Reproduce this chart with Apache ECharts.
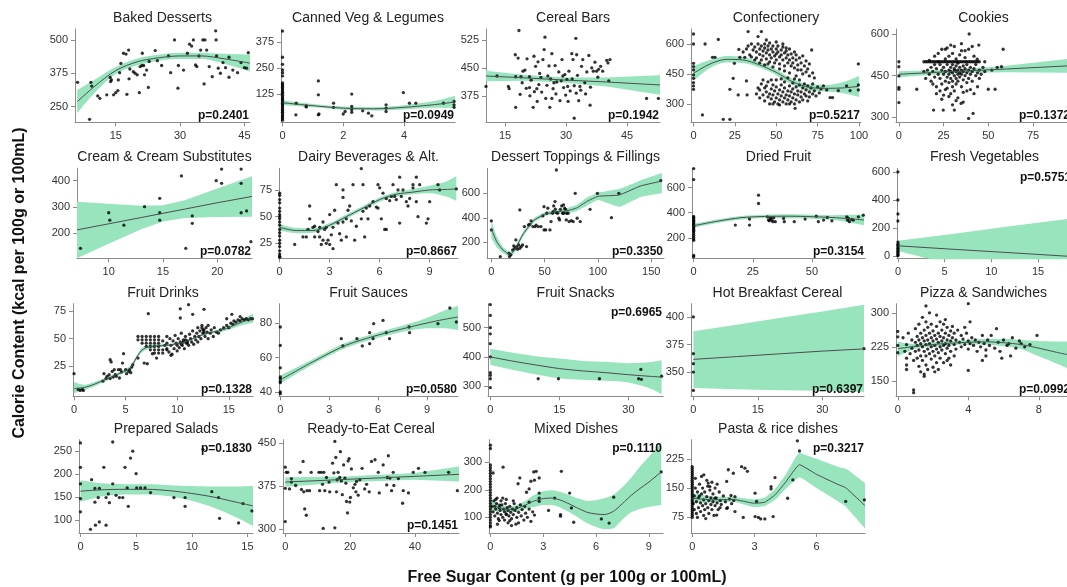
<!DOCTYPE html>
<html>
<head>
<meta charset="utf-8">
<script src="https://cdn.jsdelivr.net/npm/echarts@6/dist/echarts.min.js"></script>
<style>
  html, body { margin: 0; padding: 0; background: #fff; }
  #chart { width: 1067px; height: 587px; }
</style>
</head>
<body>
<div id="chart"></div>
<script>
// ---- panel texts ----
const titles = ['Baked Desserts', 'Canned Veg & Legumes', 'Cereal Bars', 'Confectionery', 'Cookies',
  'Cream & Cream Substitutes', 'Dairy Beverages & Alt.', 'Dessert Toppings & Fillings', 'Dried Fruit', 'Fresh Vegetables',
  'Fruit Drinks', 'Fruit Sauces', 'Fruit Snacks', 'Hot Breakfast Cereal', 'Pizza & Sandwiches',
  'Prepared Salads', 'Ready-to-Eat Cereal', 'Mixed Dishes', 'Pasta & rice dishes'];
const pValues = ['0.2401', '0.0949', '0.1942', '0.5217', '0.1372', '0.0782', '0.8667', '0.3350', '0.3154', '0.5751',
  '0.1328', '0.0580', '0.6965', '0.6397', '0.0992', '0.1830', '0.1451', '0.1110', '0.3217'];

// ---- axis ranges and tick labels ----
const xRange = [[5.5, 46.3], [-0.05, 5.68], [10.3, 53.1], [-1.5, 101.2], [-1.6, 94], [7.08, 23.2], [-0.04, 10.7], [-4.1, 162],
  [-0.7, 72.4], [-0.1, 18.1], [-0.1, 17.35], [-0.08, 10.9], [-0.5, 37.5], [-0.55, 39.7], [-0.1, 9.6], [-0.13, 15.5],
  [-0.7, 53.6], [-0.08, 9.8], [-0.06, 8.33]];
const yRange = [[191, 541], [-10, 439], [304, 554], [208, 675], [282, 618], [105, 447], [11, 95.3], [69, 804],
  [37, 753], [-16, 626], [-2, 81.6], [37.5, 91.2], [265, 582], [328, 412], [116, 320], [72, 275], [293, 456],
  [43, 382], [35, 274]];
const xTicks = [[15, 30, 45], [0, 2, 4], [15, 30, 45], [0, 25, 50, 75, 100], [0, 25, 50, 75], [10, 15, 20], [0, 3, 6, 9],
  [0, 50, 100, 150], [0, 25, 50], [0, 5, 10, 15], [0, 5, 10, 15], [0, 3, 6, 9], [0, 15, 30], [0, 15, 30], [0, 4, 8],
  [0, 5, 10, 15], [0, 20, 40], [0, 3, 6, 9], [0, 3, 6]];
const yTicks = [[250, 375, 500], [125, 250, 375], [375, 450, 525], [300, 450, 600], [300, 450, 600], [200, 300, 400],
  [25, 50, 75], [200, 400, 600], [200, 400, 600], [0, 200, 400, 600], [25, 50, 75], [40, 60, 80], [300, 400, 500],
  [350, 375, 400], [150, 225, 300], [100, 150, 200, 250], [300, 375, 450], [100, 200, 300], [75, 150, 225]];

// ---- scatter points ----
const bakedPts = [[6.1,341],[8.9,202],[9.2,341],[9.4,327],[10.8,290],[11.3,281],[12.9,294],[13.7,359],[13.8,344],[14,350],
  [14.5,294],[15,302],[15.5,310],[15.9,377],[16.2,412],[15.6,350],[16.8,450],[17.4,447],[18,462],[17.6,296],[18.1,354],
  [18.3,391],[19.1,381],[19.5,375],[20,369],[20.5,302],[20.7,400],[21.1,404],[21.5,404],[21.7,369],[21.2,450],[22.2,387],
  [22.6,322],[22.8,419],[24.2,460],[24.7,422],[25.7,404],[27.3,440],[27.8,377],[28.7,500],[29.5,319],[29.6,404],[30.8,387],
  [31.7,450],[32.2,484],[32.7,477],[33.1,500],[33.6,406],[33.9,400],[34.4,440],[34.8,462],[35.3,500],[35.8,500],[35.6,335],
  [36.2,462],[36.8,400],[37.5,362],[38.3,534],[38.4,500],[38.5,440],[38.9,394],[39.4,375],[40,415],[40.6,396],[41.4,435],
  [41.4,360],[42.3,387],[43.4,377],[44.2,415],[45,396],[45.5,394],[45.9,452]];
const cannedZero = [429,303,269,242,229,213,180,172,165,158,150,142,135,128,120,112,105,98,90,82,75,68,60,52,45,38,30,22,15,8,0];
const cannedPts = [[0.44,26],[0.45,82],[0.78,69],[0.78,64],[1.18,189],[1.18,122],[1.18,26],[1.2,30],[1.68,82],[1.68,62],
  [2,30],[2.06,42],[2.28,126],[2.28,66],[2.28,50],[2.28,38],[2.64,45],[2.83,34],[2.94,21],[3.41,74],[3.41,58],[3.41,42],
  [3.98,133],[4.18,82],[4.39,82],[5.3,82],[5.65,90],[5.65,74],[5.65,62]];
const cerealPts = [[10.3,400],[13,428],[15.8,400],[16,394],[17.6,344],[17.5,485],[18.2,476],[18.4,550],[17.6,426],[18.9,426],
  [18.7,379],[19.2,410],[19.9,444],[20.4,474],[21,397],[21.1,375],[21.4,417],[21.9,344],[22.1,481],[22.2,386],[22.5,454],
  [22.8,394],[23.1,466],[23.5,435],[23.8,424],[24.3,472],[24.6,499],[25,368],[24.8,532],[25.3,403],[25.5,428],[26,344],
  [26.5,368],[26.5,488],[26.8,394],[27,410],[27.3,456],[27.7,412],[28.2,439],[28.5,362],[29,472],[29.2,428],[29.4,397],
  [29.7,432],[29.9,377],[30.2,419],[30.4,400],[30.7,441],[31,388],[31.4,488],[31.7,472],[32,402],[32,315],[32.4,529],
  [32.5,382],[32.6,485],[32.8,430],[33.1,362],[33.4,400],[33.8,454],[34.1,472],[34.6,410],[35.1,439],[35.6,483],[35.9,350],
  [36.3,450],[36.7,441],[37.1,465],[37.5,441],[38,446],[38.5,454],[39,441],[40,470],[40.5,415],[40.3,463],[40.8,472],
  [49.8,368],[52.7,368],[19.4,441],[21,426],[23.3,405],[24,385],[25.8,455],[27.5,380],[28.8,415],[30.5,360],[31.5,420],
  [33.6,390],[34.8,380],[36,398],[37.8,425],[20.2,395],[22.9,360],[26.2,420]];
const confZero = [650,600,503,487,470,445,428,407,390,373];
const confPts = [[5.4,245],[7,600],[15,623],[18,223],[22,223],[11.5,533],[13,533],[22,373],[24,428],[24.7,503],[27,345],
  [27.4,573],[32,415],[32.4,345],[28,533],[31,533],[33,662],[39,637],[41,662],[71.4,570],[78.5,390],[80.5,370],[82.5,332],
  [84,332],[87.5,367],[92.5,390],[94.6,367],[99.6,500],[99.6,395],[99.6,370],[61.4,278],
  [30,560],[32,575],[33,590],[34,545],[35,600],[36,570],[37,585],[38,560],[38,530],[39,600],[40,575],[40,548],[41,590],
  [41,520],[42,565],[42,540],[43,580],[43,600],[44,555],[44,525],[45,570],[45,590],[46,545],[46,510],[47,575],[47,530],
  [48,560],[48,590],[49,540],[49,505],[50,575],[50,550],[50,520],[51,560],[51,590],[52,535],[52,500],[53,570],[53,545],
  [54,520],[54,585],[55,555],[55,490],[56,530],[56,565],[57,505],[57,545],[58,575],[58,520],[59,490],[59,550],[60,530],
  [60,505],[61,560],[61,480],[62,520],[62,545],[63,495],[63,470],[64,530],[65,505],[65,470],[66,540],[66,450],[67,490],
  [68,515],[68,460],[69,475],[70,440],[70,500],[72,455],[73,430],[45,500],[43,495],[40,505],[37,520],[35,535],[48,485],
  [52,475],[55,465],[58,455],[62,440],[56,580],[54,600],[50,610],[46,605],[44,620],
  [38,350],[40,330],[40,370],[41,400],[42,345],[43,315],[43,380],[44,360],[45,335],[45,410],[46,300],[46,350],[47,375],
  [47,325],[48,395],[48,345],[49,310],[49,365],[50,330],[50,385],[50,420],[51,350],[51,300],[52,370],[52,320],[53,340],
  [53,395],[54,310],[54,360],[55,330],[55,380],[55,410],[56,345],[56,300],[57,365],[57,320],[58,390],[58,340],[59,310],
  [59,360],[60,330],[60,375],[60,405],[61,350],[61,300],[62,320],[62,385],[63,345],[63,365],[64,310],[64,395],[65,335],
  [65,360],[66,380],[66,320],[67,350],[67,400],[68,340],[68,370],[69,315],[69,390],[70,360],[70,335],[71,380],[72,350],
  [72,400],[73,365],[74,340],[75,385],[76,355],[77,375],[44,390],[42,420],[39,380],[47,420],[53,425],[57,430],[61,425],
  [64,420],[58,300],[52,295],[48,300]];
const cookiesZero = [500,482,449,408,401,353];
const cookiesRowX = [15,16,17,18,19,20,21,22,23,24,25,26,27,28,29,30,31,32,33,34,35,36,37,38,39,40,41,42,43,44,45];
const cookiesPts = [[10,401],[14,500],[19.4,326],[24.8,326],[31,326],[34.8,350],[39,296],[41.5,314],[39.3,600],[58.3,545],
  [57.4,482],[50,401],[53.8,401],[43.8,509],[44.7,560],
  [16,470],[17,455],[18,480],[18,430],[19,465],[20,445],[20,520],[21,475],[21,410],[22,455],[22,530],[23,490],[23,440],
  [23,395],[24,470],[24,420],[24,545],[25,455],[25,480],[25,380],[26,465],[26,510],[26,430],[27,445],[27,490],[27,405],
  [27,550],[28,470],[28,455],[28,425],[28,520],[29,480],[29,440],[29,465],[29,385],[30,460],[30,490],[30,430],[30,530],
  [30,410],[31,470],[31,450],[31,475],[31,555],[31,395],[32,465],[32,485],[32,440],[32,510],[32,420],[33,470],[33,455],
  [33,495],[33,430],[33,370],[34,460],[34,480],[34,445],[34,525],[35,470],[35,455],[35,410],[35,540],[36,465],[36,485],
  [36,435],[36,390],[37,475],[37,450],[37,515],[38,460],[38,425],[38,490],[39,470],[39,440],[39,545],[40,455],[40,480],
  [40,400],[41,465],[41,430],[42,475],[42,520],[43,450],[43,490],[44,460],[44,410],[45,470],[45,440],[46,455],[47,480],
  [48,465],[20,490],[22,500],[26,545],[29,560],[35,565],[37,540],[41,555],[19,420],[21,385],[24,365],[28,375],[32,360],
  [36,355],[30,345],[26,400],[38,395],[42,385],[17,505],[14,465],[15,440],[48,500],[52,470],[55,480]];
const creamPts = [[7.4,143],[10,278],[10.1,250],[11.4,231],[13.3,301],[14.7,333],[14.7,278],[14.7,250],[16.7,418],[17.1,143],
  [17.7,266],[17.7,238],[19.9,400],[20.4,444],[20.4,390],[22.2,444],[22.2,390],[22.2,278],[22.7,285],[23.1,168]];
const dairyZero = [72,70,66,63,58,55,52,50,48,45,42,38,35,32,28,25,22,18,15,13,12];
const dairyPts = [[0.9,24],[1.4,31],[1.6,31],[1.7,38],[1.8,60],[1.8,48],[2,40],[2.1,41],[2.1,31],[2.3,36],[2.4,31],[2.4,40],
  [2.5,24],[2.6,28],[2.6,45],[2.7,38],[2.8,25],[2.8,40],[2.9,28],[3,52],[3,24],[3.1,33],[3.2,20],[3.2,40],[3.3,56],[3.4,80],
  [3.5,44],[3.6,34],[3.7,28],[3.8,68],[3.8,75],[3.8,45],[4,48],[4,31],[4.1,56],[4.2,60],[4.3,46],[4.4,80],[4.5,28],[4.6,41],
  [4.9,48],[4.9,95],[5,55],[5,80],[5.1,31],[5.2,58],[5.3,48],[5.4,60],[5.6,64],[5.8,59],[5.9,58],[6.1,48],[5.9,80],[6,77],
  [6.2,72],[6.3,38],[6.4,38],[6.4,67],[6.6,65],[6.7,69],[6.8,80],[6.9,69],[7,66],[7.1,75],[7.2,44],[7.2,87],[7.3,69],[7.4,75],
  [7.6,64],[7.7,60],[7.8,67],[8,77],[8,80],[8.2,87],[8.2,64],[8.3,50],[8.4,80],[8.8,44],[8.9,48],[9,64],[9.5,80],[9.6,75],
  [10.6,76]];
const dessertPts = [[0,374],[0,301],[8.4,83],[16.5,110],[17,83],[18.3,97],[20,137],[21,170],[22,151],[23,219],[23.8,165],
  [24.5,143],[25.6,178],[26.7,464],[26.7,151],[28,165],[29.3,178],[31,328],[33,165],[34.8,341],[37.3,374],[39,328],[41,328],
  [44,328],[46.5,328],[48.3,415],[49.4,491],[49.4,301],[51,301],[52,437],[53,478],[55,301],[56,369],[57.4,437],[58.5,497],
  [59.7,532],[61,790],[61,442],[62.2,437],[63.3,396],[64,382],[66,497],[67,437],[67.7,505],[68.8,478],[70.3,382],[70.6,437],
  [73,369],[75,377],[76.8,369],[78.7,600],[80.5,396],[83.4,369],[92.6,469],[99.5,600],[112.7,401],[119.6,600],[159,703],
  [64.8,469],[67.7,437],[69.5,469],[60,470],[58,450],[72,437],[42,340],[36,345]];
const driedZero = [751,663,370,360,350,340,330,320,310,300,290,280,270,260,250,235,220,205,190,180,60,50];
const driedPts = [[17.6,301],[23.6,349],[23.6,301],[27.4,539],[27.4,473],[31.2,367],[31.6,341],[32.3,349],[32.6,359],[33.5,328],
  [33.8,359],[34.5,328],[38,354],[38.3,328],[42.5,328],[47.1,349],[51.8,372],[52.7,328],[54.9,341],[56.5,362],[58.4,335],
  [64.7,367],[65,341],[65.4,354],[65.8,328],[66.8,346],[67.5,341],[69.6,367],[71.7,380],[32,335],[33,340]];
const freshZero = [600,400,300,250,100,85,75,65,55,45,35,25,15,8,3];
const drinksPts = [[0,18.4],[0.4,4.2],[0.6,3.3],[0.8,4.2],[0.9,3.3],[2.8,11.7],[2.9,18.4],[3.1,14],[3.2,16],[3.4,17.5],
  [3.5,14],[3.5,31],[3.6,29],[3.7,20.5],[3.8,15.4],[3.9,22],[4,17.5],[4.1,16],[4.3,22],[4.4,14.5],[4.5,22],[4.6,20],[4.7,28],
  [4.8,36.5],[5,22],[5.1,18.4],[5.3,20.5],[5.4,22],[5.5,19.3],[5.6,24.4],[5.7,26.5],
  [6.2,52],[6.6,52],[7,52],[7.4,52],[7.8,52],[8.2,52],[6.2,49],[6.6,49],[7,49],[7.4,49],[7.8,49],[8.2,49],[6.6,46],[7,46],
  [7.4,46],[7.8,46],[8.2,46],[7,43],[7.4,43],[7.8,43],[8.2,43],[7.4,40],[7.8,40],[8.2,40],[8.6,40],[7.8,37],[8.2,37],[8.6,37],
  [8.6,48],[8.8,44],[9,52],[9,46],[9,41],[9.2,38],[9.3,50],[9.4,44],[9.5,36],[9.6,48],[9.7,41],[9.8,53],[9.9,46],[10,44],
  [10,39],[10.1,50],[10.2,42],[10.3,47],[10.4,55],[10.5,44],[10.6,49],[10.7,41],[10.8,52],[10.9,46],[11,48],[11.1,44],
  [11.2,54],[11.3,50],[11.4,47],[11.5,57],[11.6,45],[11.7,52],[11.8,49],[11.9,55],[12,47],[12,60],[12.1,52],[12.2,57],
  [12.3,50],[12.4,62],[12.5,55],[12.6,58],[12.7,52],[12.8,60],[12.9,56],[13,50],[13,62],[13.2,55],[13.3,58],[13.5,52],
  [13.6,60],[13.8,56],[14,55],[14.2,58],[14.5,60],[14.8,62],[15,60],[15.2,64],[15.4,63],[15.5,66],[15.7,65],[15.9,67],
  [16.1,66],[16.3,68],[16.5,67],[16.7,68],[16.9,67],[17.1,68],[17.3,68],[15.3,72],[14.8,68],[16.1,70],[10.4,45],[10.6,47],
  [10.8,49],[11,46],[12.5,58],[12.6,56],[12.4,60],[7.2,72.6],[10.3,77],[11.1,80.7],[10.3,68.7],[11.5,72],[12.6,76.5],
  [6.2,32.5],[6.8,28],[7.1,27.4],[7.6,36.4],[8,32.5],[9.4,35],[9,40]];
const saucesZero = [77.7,67,54,48.7,47.7,46.2,45.4,40,39];
const saucesPts = [[3.74,70.9],[3.84,66.7],[4.7,70.9],[5.03,66.7],[5.48,74.4],[5.48,68],[5.69,70.9],[5.73,79.6],[6.3,81.5],
  [6.5,74.4],[6.7,70.9],[7.9,77.7],[7.93,74.4],[9.67,79.6],[10.4,88.7],[10.8,80.6]];
const snacksZero = [579,542,500,479,445,400,346,337,325,295];
const snacksPts = [[10.4,325],[14.8,325],[23.7,325],[32.2,325],[32.8,323],[32.7,357],[37.2,334]];
const hotZero = [400,366.7,357.6,350,333.3];
const hotPts = [[39.7,371.2]];
const pizzaPts = [[0.9,130],[0.9,124],[4,320],[1.6,315],[7.9,250],[4,173],[0,259],[0,247],[0,228],[0,212],[0.5,175],[1.5,160],
  [2.1,170],[0.3,245],[0.4,215],[0.5,200],[0.5,185],[0.5,230],[0.6,255],[0.7,210],[0.8,240],[0.8,222],[0.9,195],[1,265],
  [1,235],[1,215],[1.1,248],[1.1,228],[1.1,200],[1.2,275],[1.2,240],[1.2,218],[1.2,182],[1.3,255],[1.3,232],[1.3,205],
  [1.3,170],[1.4,290],[1.4,245],[1.4,225],[1.4,195],[1.5,262],[1.5,238],[1.5,215],[1.5,165],[1.6,280],[1.6,250],[1.6,230],
  [1.6,205],[1.6,185],[1.7,268],[1.7,240],[1.7,220],[1.7,175],[1.8,255],[1.8,232],[1.8,210],[1.9,275],[1.9,245],[1.9,225],
  [1.9,198],[2,260],[2,238],[2,215],[2,180],[2.1,250],[2.1,228],[2.1,205],[2.2,270],[2.2,242],[2.2,220],[2.2,190],[2.3,255],
  [2.3,235],[2.3,212],[2.3,175],[2.4,280],[2.4,248],[2.4,225],[2.4,200],[2.5,262],[2.5,238],[2.5,218],[2.6,275],[2.6,245],
  [2.6,228],[2.6,190],[2.7,255],[2.7,232],[2.7,210],[2.8,268],[2.8,240],[2.8,222],[2.9,250],[2.9,228],[2.9,200],[3,260],
  [3,238],[3,215],[3.1,270],[3.1,245],[3.2,230],[3.2,255],[3.3,240],[3.3,220],[3.4,262],[3.5,235],[3.6,250],[3.6,225],
  [3.7,242],[3.8,230],[3.9,255],[4,238],[4,220],[4.1,232],[4.2,245],[4.3,228],[4.4,240],[4.5,215],[4.6,235],[4.7,225],
  [4.8,250],[4.9,232],[5,218],[5.1,240],[5.2,228],[5.3,250],[5.5,222],[5.6,265],[5.7,235],[5.8,215],[6,240],[6.2,228],
  [6.3,232],[6.4,205],[6.5,245],[6.7,222],[6.9,238],[7,232],[7.2,225],[7.5,230],[3.8,268],[4.1,280],[2.2,295],[1.8,300],
  [2.7,285],[2.8,195],[3.2,205],[5,205],[4.8,195],[5.9,200],[3,185]];
const saladsZero = [268,215,179,147,118];
const saladsPts = [[0.9,80],[1,188],[1.3,169],[1.3,139],[1.35,89],[1.6,149],[1.7,169],[1.7,96],[2.1,215],[2.3,149],[2.3,89],
  [2.5,157],[2.6,138],[2.9,270],[2.9,179],[3.2,154],[3.5,149],[3.8,149],[4,215],[4.2,170],[4.3,130],[4.5,235],[4.7,250],
  [5,201],[5.05,170],[5.4,170],[5.8,170],[6.3,160],[8.4,149],[9.4,149],[9.4,130],[11.8,162],[12.4,149],[12.5,104],
  [14.6,136],[14.2,94],[15.4,120],[11,254]];
const readyPts = [[0,408],[0.3,399],[0,371],[0,313],[0.8,399],[1.3,370],[1.9,382],[1.9,388],[3.2,376],[4.6,399],[5,369],
  [5.5,418],[5.7,365],[6,335],[6.5,324],[6.7,367],[7.5,367],[8,399],[10.4,399],[10.6,367],[11.1,399],[11.5,378],[11.7,301],
  [11.9,399],[12.2,367],[12.7,390],[13.5,382],[13.7,365],[14.6,415],[15,398],[15.3,453],[15.3,302],[15.6,425],[15.8,365],
  [16,386],[16.3,399],[16.8,390],[17,435],[17.3,384],[17.6,360],[18,412],[18.4,389],[18.7,380],[18.9,348],[19.2,328],
  [19.4,419],[19.7,423],[19.9,347],[20.1,355],[20.4,405],[21,372],[21.5,378],[21.8,365],[22,383],[22.5,359],[23,386],
  [23.7,406],[24.5,370],[25.1,378],[25.9,365],[26.6,418],[27.7,421],[28.7,399],[29,363],[30.2,412],[31.3,377],[31.5,390],
  [31.8,428],[32.3,389],[32.8,367],[33.3,399],[33.5,376],[34.9,388],[36.2,345],[36.4,367],[38,363],[39.5,399],[41.1,406],
  [43.1,399],[50.4,399],[53.1,367]];
const mixedZero = [362,350,290,280,270,260,250,240,230,220,210,200,190,180,170,160,150,140,130,120,110,100,90,80,70,65];
const mixedPts = [[0.15,261],[0.72,282],[0.38,170],[0.25,140],[0.53,144],[0.9,110],[1.57,222],[1.67,243],[2.05,191],[2.2,203],
  [2.3,231],[2.46,265],[2.5,235],[2.6,267],[2.77,243],[2.77,188],[2.77,158],[2.77,170],[3.3,125],[3.65,170],[3.98,110],
  [3.98,104],[4.03,267],[4.5,188],[4.6,134],[4.73,82],[6.3,94],[6.74,79],[7,173],[9.7,265],
  [0.1,140],[0.15,120],[0.2,160],[0.25,105],[0.3,130],[0.35,150],[0.4,115],[0.45,95],[0.5,135],[0.55,125],[0.6,160],
  [0.6,110],[0.65,145],[0.7,100],[0.75,130],[0.8,120],[0.8,90],[0.85,150],[0.9,112],[0.95,135],[1,125],[1,80],[1.05,105],
  [1.1,140],[1.15,118],[1.2,95],[1.25,130],[1.3,110],[1.35,150],[1.4,125],[1.5,100],[1.5,135],[1.6,80],[1.6,118],[1.7,145],
  [1.75,105],[1.8,128],[1.9,90],[1.95,140],[2,115],[2.1,100],[2.2,130],[2.3,85],[2.4,120],[2.5,108],[0.3,165],[0.5,88],
  [0.4,75],[1.2,70],[1.45,75],[0.7,170],[0.9,165],[1.3,160],[2.2,155],[1.1,88]];
const pastaZero = [205,200,195,190,185,180,175,170,165,160,155,150,145,140,135,130,125,120,115,110,105,100,95,90,85,80,75];
const pastaPts = [[0.56,184],[0.77,163],[0.85,154],[1.1,124],[1.18,81],[1.66,167],[1.74,197],[1.98,188],[2.06,128],[2.06,90],
  [2.38,205],[2.54,201],[2.66,193],[2.46,75],[1.66,98],[1.87,131],[1.34,100],[3.03,137],[3.03,77],[3.19,75],[3.3,71],
  [3.5,71],[3.1,116],[3.8,154],[3.8,148],[3.9,77],[3.99,177],[4.6,124],[4.85,171],[5.07,271],[5.17,245],[7.4,116],[8.3,120],
  [0.05,110],[0.1,95],[0.1,130],[0.15,150],[0.2,85],[0.2,115],[0.25,140],[0.3,100],[0.3,125],[0.35,160],[0.4,90],[0.4,112],
  [0.45,135],[0.5,105],[0.5,150],[0.55,80],[0.55,120],[0.6,95],[0.6,140],[0.65,110],[0.7,128],[0.7,170],[0.75,100],[0.8,118],
  [0.8,85],[0.85,145],[0.9,108],[0.9,125],[0.95,95],[1,135],[1,115],[1.05,80],[1.1,150],[1.1,105],[1.15,125],[1.2,112],
  [1.25,95],[1.3,140],[1.35,118],[1.4,108],[1.5,130],[1.6,115],[1.7,100],[1.8,122],[1.9,110],[2,118],[0.15,175],[0.25,75],
  [0.45,180],[0.65,72],[0.35,130],[0.75,155],[0.95,165],[1.2,160]];

// ---- fitted curves: x, fit, lower and upper band ----
const bakedFx = [6, 10, 15, 20, 25, 30, 35, 40, 46.3];
const bakedFit = [268, 325, 385, 418, 433, 440, 440, 430, 413];
const bakedLo = [225, 300, 372, 405, 422, 428, 428, 412, 382];
const bakedHi = [312, 350, 398, 430, 445, 452, 452, 448, 445];
const cannedFx = [0, 1, 2, 3, 4, 5, 5.68];
const cannedFit = [84, 70, 58, 55, 62, 75, 88];
const cannedLo = [72, 62, 50, 47, 52, 60, 58];
const cannedHi = [96, 78, 66, 63, 72, 92, 118];
const cerealFx = [10.3, 20, 30, 40, 53.1];
const cerealFit = [428, 423, 417, 412, 404];
const cerealLo = [414, 415, 410, 400, 378];
const cerealHi = [442, 431, 424, 424, 430];
const confFx = [0, 10, 20, 30, 40, 50, 60, 70, 80, 90, 100];
const confFit = [453, 500, 523, 520, 495, 458, 410, 383, 378, 380, 388];
const confLo = [415, 480, 507, 505, 482, 444, 396, 368, 362, 355, 335];
const confHi = [490, 520, 540, 535, 508, 472, 424, 398, 395, 408, 440];
const cookiesFx = [0, 30, 60, 94];
const cookiesFit = [455, 465, 474, 485];
const cookiesLo = [444, 459, 462, 460];
const cookiesHi = [466, 471, 486, 510];
const creamFx = [7.08, 10, 13, 15, 17, 20, 23.2];
const creamFit = [213, 236, 260, 276, 292, 316, 340];
const creamLo = [105, 160, 215, 245, 258, 262, 263];
const creamHi = [320, 312, 305, 307, 326, 370, 417];
const dairyFx = [0, 1, 2, 3, 4, 5, 6, 7, 8, 9, 10, 10.6];
const dairyFit = [40, 37, 37, 42, 50, 58, 66, 71, 73, 75, 75.5, 76];
const dairyLo = [37, 34.5, 35, 40, 48, 56, 64, 69, 71, 72, 69, 65];
const dairyHi = [43, 39.5, 39, 44, 52, 60, 68, 73, 76, 79, 83, 88];
const dessertFx = [0, 5, 10, 15, 18, 22, 30, 40, 50, 60, 70, 80, 90, 100, 120, 140, 160];
const dessertFit = [306, 205, 145, 110, 102, 140, 270, 380, 428, 448, 455, 480, 535, 575, 586, 660, 700];
const dessertLo = [235, 160, 118, 90, 80, 120, 250, 362, 412, 432, 432, 455, 500, 545, 490, 570, 600];
const dessertHi = [375, 250, 170, 130, 125, 160, 290, 398, 445, 465, 478, 505, 568, 605, 635, 705, 765];
const driedFx = [0, 10, 20, 30, 40, 50, 60, 72];
const driedFit = [296, 332, 360, 370, 372, 368, 360, 342];
const driedLo = [280, 318, 346, 356, 356, 352, 340, 300];
const driedHi = [312, 346, 374, 384, 388, 384, 380, 385];
const freshFx = [0, 6, 12, 18.1];
const freshFit = [73, 48, 24, -1];
const freshLo = [36, -64, -164, -267];
const freshHi = [110, 160, 212, 265];
const drinksFx = [0, 1, 2, 3, 4, 5, 5.5, 6, 6.5, 7, 8, 9, 10, 11, 12, 13, 14, 15, 16, 17.35];
const drinksFit = [5, 6, 9, 13, 17, 21, 24, 32, 39, 42, 43.5, 44, 45.5, 48, 52, 55, 57, 60, 64, 68.5];
const drinksLo = [1, 3.5, 7, 11.5, 15.5, 19.5, 22, 30, 37, 40, 42, 43, 44.5, 47, 51, 54, 55.5, 58, 61.5, 64.5];
const drinksHi = [11, 8.5, 11, 14.5, 18.5, 22.5, 26, 34, 41, 44, 45, 45, 46.5, 49, 53, 56, 58.5, 62, 66.5, 72.5];
const saucesFx = [0, 2, 4, 6, 8, 9, 10, 10.9];
const saucesFit = [47, 57.5, 67, 73, 77.8, 80, 82, 83.5];
const saucesLo = [45, 56, 65.5, 71.5, 75.8, 77, 77, 76];
const saucesHi = [49.5, 59, 68.5, 74.5, 79.8, 83, 87, 90];
const snacksFx = [0, 5, 10, 15, 20, 25, 30, 35, 37.2];
const snacksFit = [400, 385, 372, 360, 352, 346, 339, 333, 331];
const snacksLo = [372, 355, 340, 327, 322, 318, 312, 290, 272];
const snacksHi = [428, 414, 402, 394, 386, 383, 378, 382, 388];
const hotFx = [0, 10, 20, 30, 39.7];
const hotFit = [361.5, 364, 366.5, 369, 371];
const hotLo = [335.5, 334.5, 333.5, 333, 332];
const hotHi = [387, 393, 399, 405, 411];
const pizzaFx = [0, 1, 2, 3, 4, 5, 6, 7, 8, 9, 9.6];
const pizzaFit = [221, 226, 230, 233, 235, 236, 234, 230, 222, 213, 208];
const pizzaLo = [204, 221, 225, 228, 230, 230, 226, 220, 204, 188, 178];
const pizzaHi = [236, 231, 235, 238, 240, 242, 242, 240, 238, 237, 237];
const saladsFx = [0, 2, 4, 6, 8, 10, 12, 14, 15.5];
const saladsFit = [163, 166, 167, 167, 164, 158, 150, 139, 131];
const saladsLo = [140, 152, 156, 156, 152, 142, 127, 106, 87];
const saladsHi = [187, 180, 178, 178, 176, 174, 173, 173, 174];
const readyFx = [0, 20, 40, 53.6];
const readyFit = [382, 387, 392, 395.5];
const readyLo = [374, 382, 386, 383];
const readyHi = [390, 392, 398, 409];
const mixedFx = [0, 0.5, 1, 1.5, 2, 2.5, 3, 3.5, 4, 4.5, 5, 5.5, 6, 6.5, 7, 7.5, 8, 8.5, 9, 9.7];
const mixedFit = [146, 135, 128, 132, 145, 160, 168, 170, 162, 148, 132, 118, 112, 110, 122, 150, 180, 205, 228, 265];
const mixedLo = [122, 122, 118, 120, 130, 138, 145, 145, 135, 118, 98, 78, 65, 57, 60, 92, 118, 130, 138, 145];
const mixedHi = [170, 148, 138, 145, 160, 182, 195, 198, 192, 180, 168, 160, 162, 170, 182, 210, 245, 285, 320, 375];
const pastaFx = [0, 1, 2, 2.5, 3, 3.5, 4, 4.5, 5.17, 6, 7, 7.4, 8.33];
const pastaFit = [124, 120, 121, 116, 111, 114, 133, 165, 210, 185, 160, 151, 105];
const pastaLo = [113, 113, 115, 108, 101, 104, 120, 148, 178, 150, 117, 103, 47];
const pastaHi = [136, 128, 128, 124, 121, 126, 148, 184, 240, 225, 205, 200, 163];

// ---- build per panel from the arrays ----
const col = (x, ys) => ys.map(y => [x, y]);
const points = [
  bakedPts, col(0, cannedZero).concat(cannedPts), cerealPts, col(0, confZero).concat(confPts),
  col(0, cookiesZero).concat(cookiesRowX.map(x => [x, 500]), cookiesPts),
  creamPts, col(0, dairyZero).concat(dairyPts), dessertPts, col(0, driedZero).concat(driedPts), col(0, freshZero),
  drinksPts, col(0, saucesZero).concat(saucesPts), col(0, snacksZero).concat(snacksPts), col(0, hotZero).concat(hotPts),
  pizzaPts, col(0, saladsZero).concat(saladsPts), readyPts, col(0, mixedZero).concat(mixedPts),
  col(0, pastaZero).concat(pastaPts)
];
const fits = [
  [bakedFx, bakedFit, bakedLo, bakedHi], [cannedFx, cannedFit, cannedLo, cannedHi], [cerealFx, cerealFit, cerealLo, cerealHi],
  [confFx, confFit, confLo, confHi], [cookiesFx, cookiesFit, cookiesLo, cookiesHi], [creamFx, creamFit, creamLo, creamHi],
  [dairyFx, dairyFit, dairyLo, dairyHi], [dessertFx, dessertFit, dessertLo, dessertHi], [driedFx, driedFit, driedLo, driedHi],
  [freshFx, freshFit, freshLo, freshHi], [drinksFx, drinksFit, drinksLo, drinksHi], [saucesFx, saucesFit, saucesLo, saucesHi],
  [snacksFx, snacksFit, snacksLo, snacksHi], [hotFx, hotFit, hotLo, hotHi], [pizzaFx, pizzaFit, pizzaLo, pizzaHi],
  [saladsFx, saladsFit, saladsLo, saladsHi], [readyFx, readyFit, readyLo, readyHi], [mixedFx, mixedFit, mixedLo, mixedHi],
  [pastaFx, pastaFit, pastaLo, pastaHi]
];

// ---- layout (pixels) and styles ----
const colLR = [[75, 250], [281, 455], [486, 660], [691, 861], [896, 1071],
  [77, 252], [279, 458], [487, 664], [692, 865], [897, 1072],
  [73, 253], [279, 458], [488, 663], [691, 864], [896, 1071],
  [79, 253], [283, 459], [489, 663], [691, 865]];
const rowTB = [[29, 122.3], [168.3, 258.3], [303.7, 396.3], [439.7, 533]];
const pAtTop = [9, 12, 15, 17, 18];
const smoothing = [0.3, 0.3, false, 0.3, false, false, 0.3, 0.12, 0.3, false,
  0.25, 0.3, 0.3, false, 0.3, 0.3, false, 0.2, 0.12];
const GREEN = '#97e4bd';
const AXIS = '#8c8c8c';
const FONT = '"Liberation Sans", Arial, sans-serif';

const grids = [], xAxes = [], yAxes = [], series = [], graphics = [];
titles.forEach((t, i) => {
  const [l, r] = colLR[i];
  const [top, bot] = rowTB[Math.floor(i / 5)];
  grids.push({ left: l, top: top, width: r - l, height: bot - top });
  xAxes.push({
    type: 'value', gridIndex: i, min: xRange[i][0], max: xRange[i][1],
    axisLine: { show: true, onZero: false, lineStyle: { color: AXIS } },
    axisTick: { show: true, length: 4, customValues: xTicks[i], lineStyle: { color: AXIS } },
    axisLabel: { customValues: xTicks[i], fontSize: 11, color: '#333', margin: 8, fontFamily: FONT },
    splitLine: { show: false }
  });
  yAxes.push({
    type: 'value', gridIndex: i, min: yRange[i][0], max: yRange[i][1],
    axisLine: { show: true, onZero: false, lineStyle: { color: AXIS } },
    axisTick: { show: true, length: 4, customValues: yTicks[i], lineStyle: { color: AXIS } },
    axisLabel: { customValues: yTicks[i], fontSize: 11, color: '#333', margin: 7, fontFamily: FONT },
    splitLine: { show: false }
  });
  const [fx, fit, lo, hi] = fits[i];
  const sm = smoothing[i];
  // band: value first so that the stack is computed on y, x given through encode
  series.push({
    type: 'line', xAxisIndex: i, yAxisIndex: i, stack: 'band' + i, stackStrategy: 'all',
    data: fx.map((x, k) => [lo[k], x]), encode: { x: 1, y: 0 }, symbol: 'none', smooth: sm,
    lineStyle: { opacity: 0 }, silent: true, z: 1
  });
  series.push({
    type: 'line', xAxisIndex: i, yAxisIndex: i, stack: 'band' + i, stackStrategy: 'all',
    data: fx.map((x, k) => [hi[k] - lo[k], x]), encode: { x: 1, y: 0 }, symbol: 'none', smooth: sm,
    lineStyle: { opacity: 0 }, areaStyle: { color: GREEN, opacity: 1 }, silent: true, z: 1
  });
  series.push({
    type: 'scatter', xAxisIndex: i, yAxisIndex: i, data: points[i],
    symbol: 'circle', symbolSize: 3.3, itemStyle: { color: '#000' }, silent: true, z: 3
  });
  series.push({
    type: 'line', xAxisIndex: i, yAxisIndex: i, data: fx.map((x, k) => [x, fit[k]]),
    symbol: 'none', smooth: sm,
    lineStyle: { color: '#4d4d4d', width: 1 }, silent: true, z: 4
  });
  graphics.push({
    type: 'text', x: (l + r) / 2, y: top - 11,
    style: { text: t, fill: '#222', font: '14px ' + FONT, align: 'center', verticalAlign: 'middle' }
  });
  const atTop = pAtTop.indexOf(i) >= 0;
  graphics.push({
    type: 'text', x: r - 1, y: atTop ? top + 9 : bot - 7, z: 10,
    style: { text: 'p=' + pValues[i], fill: '#111', font: 'bold 12px ' + FONT, align: 'right', verticalAlign: 'middle' }
  });
});
graphics.push({
  type: 'text', x: 20, y: 283, rotation: Math.PI / 2,
  style: { text: 'Calorie Content (kcal per 100g or 100mL)', fill: '#111', font: 'bold 16px ' + FONT,
    align: 'center', verticalAlign: 'middle' }
});
graphics.push({
  type: 'text', x: 567, y: 578,
  style: { text: 'Free Sugar Content (g per 100g or 100mL)', fill: '#111', font: 'bold 16px ' + FONT,
    align: 'center', verticalAlign: 'middle' }
});

const chart = echarts.init(document.getElementById('chart'));
chart.setOption({
  backgroundColor: '#fff',
  animation: false,
  grid: grids,
  xAxis: xAxes,
  yAxis: yAxes,
  series: series,
  graphic: graphics
});
</script>
</body>
</html>
